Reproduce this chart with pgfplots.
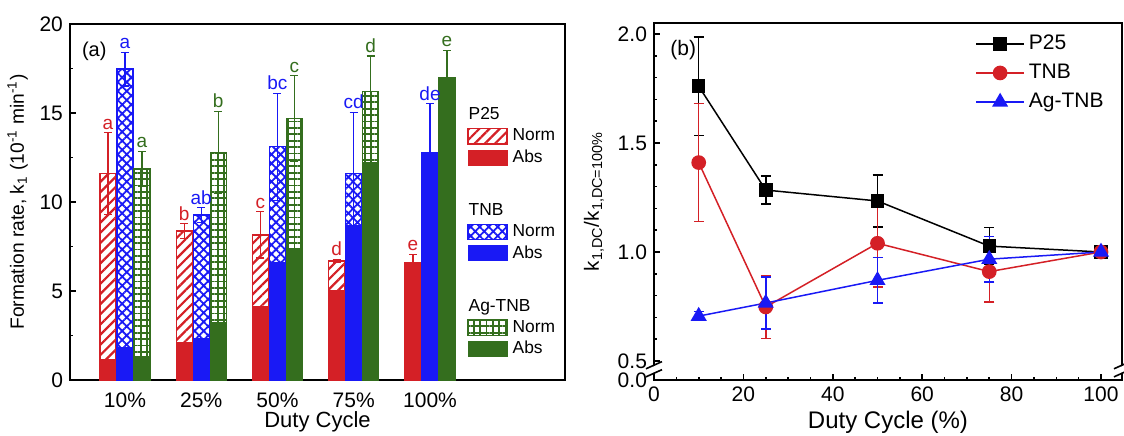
\documentclass[border=0pt]{standalone}
\usepackage{fontspec}
\setmainfont{Liberation Sans}
\usepackage{pgfplots}
\usepackage{pgfplotstable}
\pgfplotsset{compat=1.18}
\usetikzlibrary{patterns.meta}

\definecolor{cred}{RGB}{212,32,38}
\definecolor{cblue}{RGB}{25,25,245}
\definecolor{cgreen}{RGB}{52,110,30}

% x = category index, tot = Norm (total), abs = Abs part, err = error
\pgfplotstableread{
x tot abs err lab
0 11.6 1.15 2.3 a
1 8.37 2.1 0.4 b
2 8.15 4.1 1.3 c
3 6.69 5.0 0.08 d
4 6.57 6.57 0.5 e
}\ptwofive
\pgfplotstableread{
x tot abs err lab
0 17.47 1.8 0.95 a
1 9.27 2.35 0.4 ab
2 13.1 6.57 3.0 bc
3 11.6 8.7 3.45 cd
4 12.77 12.77 2.75 de
}\tnb
\pgfplotstableread{
x tot abs err lab
0 11.85 1.3 1.0 a
1 12.8 3.2 2.3 b
2 14.7 7.4 2.4 c
3 16.2 12.2 2.0 d
4 16.97 16.97 1.55 e
}\agtnb

% panel (b): duty cycle, ratio, error
\pgfplotstableread{
dc r e
10 1.76 0.225
25 1.284 0.065
50 1.234 0.12
75 1.027 0.085
100 1.0 0.01
}\rpt
\pgfplotstableread{
dc r e
10 1.41 0.27
25 0.748 0.145
50 1.04 0.2
75 0.91 0.14
100 1.0 0.01
}\rtnb
\pgfplotstableread{
dc r e
10 0.706 0.02
25 0.766 0.12
50 0.87 0.105
75 0.967 0.105
100 1.0 0.01
}\rag

\newcommand\ltitle[1]{\makebox[0pt][l]{\hspace*{-22pt}#1}}

\pgfplotsset{
  swatch/.style={legend image code/.code={\draw[##1] (0pt,-3.8pt) rectangle (19.5pt,3.8pt);}},
  common/.style={
    scale only axis,
    tick align=inside,
    axis line style={line width=1pt},
    major tick length=3pt, minor tick length=1.6pt,
    tick style={line width=0.8pt, black},
    tick label style={font=\fontsize{10.5}{12}\selectfont},
    label style={font=\fontsize{11}{13}\selectfont},
    xlabel style={at={(axis description cs:0.5,0)}, anchor=north, yshift=-12pt},
    /pgf/number format/assume math mode=true,
  },
  errs/.style={error bars/y dir=both, error bars/y explicit,
    error bars/error bar style={#1, line width=0.6pt},
    error bars/error mark options={#1, rotate=90, mark size=2pt, line width=0.6pt}},
  rerr/.style={error bars/y dir=both, error bars/y explicit,
    error bars/error bar style={line width=0.75pt},
    error bars/error mark options={rotate=90, mark size=2.5pt, line width=0.75pt}},
  letters/.style={#1, draw=none, fill=none, nodes near coords, point meta=explicit symbolic,
    nodes near coords style={font=\fontsize{9.5}{10}\selectfont, text=#1, inner sep=1.5pt}},
}

\begin{document}
\begin{tikzpicture}
\useasboundingbox (-35pt,-27.5pt) rectangle (527pt,190pt);
\begin{axis}[common,
  at={(0pt,0pt)}, anchor=south west,
  width=247.5pt, height=178pt,
  ybar, bar width=8pt,
  xmin=-0.72, xmax=5.77, ymin=0, ymax=20,
  xtick={0,...,4}, xticklabels={10\%,25\%,50\%,75\%,100\%},
  xtick style={draw=none},
  ytick={0,5,...,20}, minor y tick num=1, ytick pos=left,
  xlabel={Duty Cycle},
  ylabel={Formation rate, k\textsubscript{1} (10\textsuperscript{-1} min\textsuperscript{-1})},
  ylabel style={font=\fontsize{9.6}{11}\selectfont, yshift=-1pt},
  legend style={at={(0.79,0.78)}, anchor=north west, draw=none, fill=none,
    font=\fontsize{8.7}{9}\selectfont, row sep=2pt, column sep=2pt,
    nodes={inner sep=0.5pt}},
  legend cell align=left,
]
% P25
\addplot[forget plot, bar shift=-8.5pt, draw=cred, line width=0.6pt,
  pattern={Lines[angle=45,distance=3.6pt,line width=1.1pt]}, pattern color=cred,
  errs=cred] table[x=x, y=tot, y error=err] {\ptwofive};
\addplot[forget plot, bar shift=-8.5pt, draw=cred, fill=cred, line width=0.6pt]
  table[x=x, y=abs] {\ptwofive};
% TNB
\addplot[forget plot, bar shift=0pt, draw=cblue, line width=0.6pt,
  pattern={Hatch[angle=45,distance=3.2pt,line width=0.9pt]}, pattern color=cblue,
  errs=cblue] table[x=x, y=tot, y error=err] {\tnb};
\addplot[forget plot, bar shift=0pt, draw=cblue, fill=cblue, line width=0.6pt]
  table[x=x, y=abs] {\tnb};
% Ag-TNB
\addplot[forget plot, bar shift=8.5pt, draw=cgreen, line width=0.6pt,
  pattern={Hatch[angle=0,distance=3.2pt,line width=0.9pt]}, pattern color=cgreen,
  errs=cgreen] table[x=x, y=tot, y error=err] {\agtnb};
\addplot[forget plot, bar shift=8.5pt, draw=cgreen, fill=cgreen, line width=0.6pt]
  table[x=x, y=abs] {\agtnb};
% letters
\addplot[forget plot, bar shift=-8.5pt, letters=cred]
  table[x=x, y expr=\thisrow{tot}+\thisrow{err}, meta=lab] {\ptwofive};
\addplot[forget plot, bar shift=0pt, letters=cblue]
  table[x=x, y expr=\thisrow{tot}+\thisrow{err}, meta=lab] {\tnb};
\addplot[forget plot, bar shift=8.5pt, letters=cgreen]
  table[x=x, y expr=\thisrow{tot}+\thisrow{err}, meta=lab] {\agtnb};

\addlegendimage{empty legend}\addlegendentry{\ltitle{P25}}
\addlegendimage{swatch, draw=cred, line width=0.6pt,
  pattern={Lines[angle=45,distance=3.6pt,line width=1.1pt]}, pattern color=cred}
\addlegendentry{Norm}
\addlegendimage{swatch, draw=cred, fill=cred}\addlegendentry{Abs}
\addlegendimage{empty legend}\addlegendentry{\rule{0pt}{22pt}\ltitle{TNB}}
\addlegendimage{swatch, draw=cblue, line width=0.6pt,
  pattern={Hatch[angle=45,distance=3.2pt,line width=0.9pt]}, pattern color=cblue}
\addlegendentry{Norm}
\addlegendimage{swatch, draw=cblue, fill=cblue}\addlegendentry{Abs}
\addlegendimage{empty legend}\addlegendentry{\rule{0pt}{22pt}\ltitle{\smash{Ag-TNB}}}
\addlegendimage{swatch, draw=cgreen, line width=0.6pt,
  pattern={Hatch[angle=0,distance=3.2pt,line width=0.9pt]}, pattern color=cgreen}
\addlegendentry{Norm}
\addlegendimage{swatch, draw=cgreen, fill=cgreen}\addlegendentry{Abs}

\node[anchor=north west, font=\fontsize{10}{12}\selectfont] at (rel axis cs:0.01,0.97) {(a)};
\end{axis}

\begin{axis}[common,
  at={(292pt,0pt)}, anchor=south west,
  width=234pt, height=178.5pt,
  xmin=0, xmax=104.7, ymin=0.413, ymax=2.05,
  xtick={0,20,...,100}, minor x tick num=3, xtick pos=bottom,
  ytick={0.413,0.5,1,1.5,2}, yticklabels={0.0,0.5,1.0,1.5,2.0},
  minor ytick={0.6,0.7,0.8,0.9,1.1,1.2,1.3,1.4,1.6,1.7,1.8,1.9},
  ytick pos=left,
  clip=false,
  xlabel={Duty Cycle (\%)},
  xlabel style={font=\fontsize{12}{14}\selectfont},
  ylabel={k\textsubscript{1,DC}/k\textsubscript{1,DC=100\%}},
  ylabel style={font=\fontsize{10.3}{12}\selectfont},
  legend style={at={(0.673,0.99)}, anchor=north west, draw=none, fill=none,
    font=\fontsize{10.5}{12}\selectfont, row sep=1.8pt},
  legend cell align=left,
  legend image code/.code={\draw[mark repeat=2,mark phase=2,#1] plot coordinates {(0pt,0pt) (12pt,0pt) (24pt,0pt)};},
]
\addplot[black, line width=0.75pt, mark=square*, mark size=3pt, rerr]
  table[x=dc, y=r, y error=e] {\rpt};
\addlegendentry{P25}
\addplot[cred, line width=0.75pt, mark=*, mark size=3.3pt, rerr]
  table[x=dc, y=r, y error=e] {\rtnb};
\addlegendentry{TNB}
\addplot[cblue, line width=0.75pt, mark=triangle*, mark size=3.9pt, rerr]
  table[x=dc, y=r, y error=e] {\rag};
\addlegendentry{Ag-TNB}

% axis break marks
\draw[white, line width=3pt] ([xshift=-4pt,yshift=-1.8pt]axis cs:0,0.462) -- ([xshift=4pt,yshift=1.8pt]axis cs:0,0.462);
\draw[black, line width=0.8pt] ([xshift=-4pt,yshift=-0.6pt]axis cs:0,0.47) -- ([xshift=4pt,yshift=3pt]axis cs:0,0.47);
\draw[black, line width=0.8pt] ([xshift=-4pt,yshift=-3pt]axis cs:0,0.455) -- ([xshift=4pt,yshift=0.6pt]axis cs:0,0.455);
\draw[white, line width=3pt] ([xshift=-4pt,yshift=-1.8pt]axis cs:104.7,0.462) -- ([xshift=4pt,yshift=1.8pt]axis cs:104.7,0.462);
\draw[black, line width=0.8pt] ([xshift=-4pt,yshift=-0.6pt]axis cs:104.7,0.47) -- ([xshift=4pt,yshift=3pt]axis cs:104.7,0.47);
\draw[black, line width=0.8pt] ([xshift=-4pt,yshift=-3pt]axis cs:104.7,0.455) -- ([xshift=4pt,yshift=0.6pt]axis cs:104.7,0.455);
\node[anchor=north west, font=\fontsize{10.5}{12}\selectfont] at (rel axis cs:0.02,0.97) {(b)};
\end{axis}
\end{tikzpicture}
\end{document}
